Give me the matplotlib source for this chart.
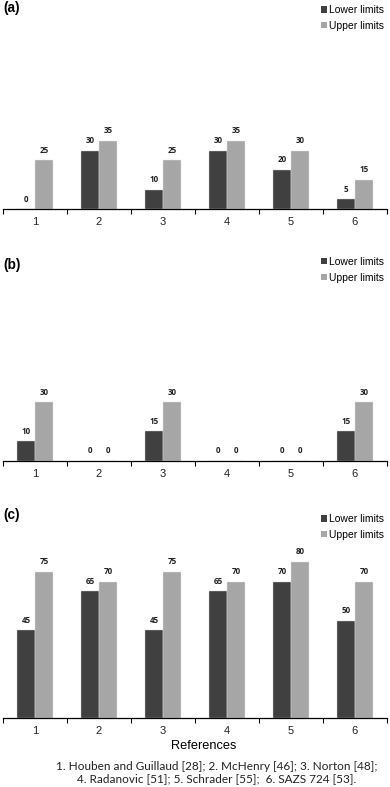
import numpy as np
import matplotlib
matplotlib.use("Agg")
from matplotlib import pyplot as plt
from matplotlib.patches import Patch

categories = ["1", "2", "3", "4", "5", "6"]
lower_a = [0, 30, 10, 30, 20, 5]
upper_a = [25, 35, 25, 35, 30, 15]
lower_b = [10, 0, 15, 0, 0, 15]
upper_b = [30, 0, 30, 0, 0, 30]
lower_c = [45, 65, 45, 65, 70, 50]
upper_c = [75, 70, 75, 70, 80, 70]
panel_labels = ["(a)", "(b)", "(c)"]
footnote = ("1. Houben and Guillaud [28]; 2. McHenry [46]; 3. Norton [48];\n"
            "4. Radanovic [51]; 5. Schrader [55];  6. SAZS 724 [53].")

dark = "#404040"
light = "#a6a6a6"

W, H = 390, 787
fig = plt.figure(figsize=(W / 100, H / 100), dpi=100)

bottoms = [209, 460.7, 718]
ax_h = 195
data = [(lower_a, upper_a), (lower_b, upper_b), (lower_c, upper_c)]
x = np.arange(len(categories))
w = 0.28

for i, (lo, up) in enumerate(data):
    bot = bottoms[i]
    ax = fig.add_axes([3 / W, (H - bot) / H, 384 / W, ax_h / H])
    ax.bar(x - w / 2, lo, w, color=dark, edgecolor="#d0d0d0", linewidth=0.3)
    ax.bar(x + w / 2, up, w, color=light, edgecolor="#e6e6e6", linewidth=0.3)
    for xs, vals in ((x - w / 2, lo), (x + w / 2, up)):
        for xi, v in zip(xs, vals):
            ax.annotate(str(v), (xi, v), xytext=(0, 10), textcoords="offset pixels",
                        ha="center", va="center", fontsize=5.8, fontweight="bold",
                        family="Open Sans", color="#222222")
    ax.set_xlim(-0.5, 5.5)
    ax.set_ylim(0, 100)
    for s in ("top", "right", "left"):
        ax.spines[s].set_visible(False)
    ax.spines["bottom"].set_linewidth(0.9)
    ax.set_yticks([])
    ax.set_xticks(x)
    ax.set_xticklabels(categories, family="Liberation Sans", fontsize=8, color="#222222")
    ax.tick_params(axis="x", which="major", length=0, pad=6)
    ax.set_xticks(np.arange(-0.5, 6.0, 1.0), minor=True)
    ax.tick_params(axis="x", which="minor", length=3.5, width=0.8, direction="out")
    ax.patch.set_alpha(0)

    handles = [Patch(facecolor=dark, edgecolor="none"), Patch(facecolor=light, edgecolor="none")]
    ax.legend(handles, ["Lower limits", "Upper limits"], loc="upper right",
              bbox_to_anchor=(1.005, 1 + 14 / ax_h), frameon=False, borderpad=0,
              handlelength=0.55, handleheight=0.55, handletextpad=0.15,
              labelspacing=0.55, prop={"family": "Liberation Sans", "size": 7.5})
    fig.text(3 / W, 1 - [8, 265, 515][i] / H, panel_labels[i], ha="left", va="center",
             fontsize=9.8, fontweight="bold", family="Liberation Sans")

fig.text(204 / W, 1 - 746 / H, "References", ha="center", va="center",
         family="Liberation Sans", fontsize=9.2)
fig.text(217 / W, 1 - 772.5 / H, footnote, ha="center", va="center",
         fontsize=8.5, family="Lato", linespacing=1.05, color="#222222")

fig.savefig("out.png", dpi=100)
